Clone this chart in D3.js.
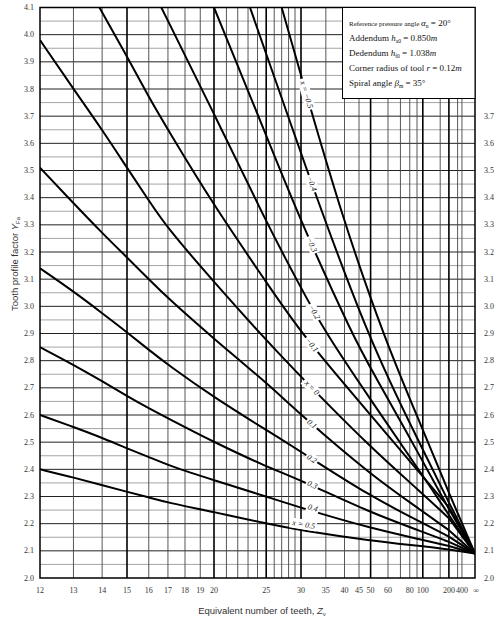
<!DOCTYPE html>
<html>
<head>
<meta charset="utf-8">
<script src="https://cdn.jsdelivr.net/npm/d3@7.9.0/dist/d3.min.js"></script>
<style>
  body { margin: 0; background: #fff; }
  svg text { font-family: "Liberation Serif", "Times New Roman", serif; }
  .sans { font-family: "Liberation Sans", Arial, sans-serif; }
</style>
</head>
<body>
<svg id="chart" width="503" height="623"></svg>
<script>
// profile shift coefficient x of each curve
const shifts = [-0.5, -0.4, -0.3, -0.2, -0.1, 0, 0.1, 0.2, 0.3, 0.4, 0.5];
const shiftLabels = ['x = \u22120.5', '\u22120.4', '\u22120.3', '\u22120.2', '\u22120.1',
  'x = 0', '0.1', '0.2', '0.3', '0.4', 'x = 0.5'];

// Z_v where each steep curve is read (it leaves the top of the chart at the first value)
const zM05 = [27, 30, 39, 58, 100, 200, Infinity];
const yM05 = [4.10, 3.85, 3.34, 2.875, 2.547, 2.314, 2.09];
const zM04 = [23.2, 25, 30, 49, 100, 200, Infinity];
const yM04 = [4.10, 3.93, 3.56, 2.875, 2.474, 2.278, 2.09];
const zM03 = [20, 25, 30, 43.5, 50, 100, 200, Infinity];
const yM03 = [4.10, 3.63, 3.31, 2.875, 2.773, 2.43, 2.254, 2.09];
const zM02 = [16.64, 20, 25, 29.7, 34.6, 50, 100, 200, Infinity];
const yM02 = [4.10, 3.71, 3.31, 3.08, 2.91, 2.656, 2.377, 2.232, 2.09];
const zM01 = [13.9, 15, 16, 17, 20, 25, 30, 50, 100, 200, Infinity];
const yM01 = [4.10, 3.92, 3.77, 3.65, 3.37, 3.09, 2.90, 2.60, 2.374, 2.26, 2.09];

// flatter curves all start at Z_v = 12
const zLow = [12, 13, 14, 15, 16, 17, 20, 25, 30, 50, 100, 200, Infinity];
const yP00 = [3.98, 3.80, 3.65, 3.51, 3.39, 3.285, 3.09, 2.875, 2.74, 2.48, 2.31, 2.22, 2.09];
const yP01 = [3.51, 3.38, 3.27, 3.18, 3.10, 3.03, 2.88, 2.72, 2.60, 2.38, 2.245, 2.176, 2.09];
const yP02 = [3.14, 3.055, 2.975, 2.905, 2.84, 2.785, 2.665, 2.545, 2.465, 2.30, 2.202, 2.152, 2.09];
const yP03 = [2.85, 2.785, 2.725, 2.67, 2.625, 2.588, 2.50, 2.41, 2.36, 2.24, 2.17, 2.133, 2.09];
const yP04 = [2.60, 2.556, 2.516, 2.477, 2.446, 2.415, 2.36, 2.30, 2.258, 2.183, 2.14, 2.118, 2.09];
const yP05 = [2.40, 2.37, 2.342, 2.317, 2.297, 2.277, 2.243, 2.20, 2.175, 2.137, 2.117, 2.105, 2.09];

const curveZ = [zM05, zM04, zM03, zM02, zM01, zLow, zLow, zLow, zLow, zLow, zLow];
const curveY = [yM05, yM04, yM03, yM02, yM01, yP00, yP01, yP02, yP03, yP04, yP05];

// Z_v where the curve label sits, and how far it is lifted off its curve
const labelZ = [31, 32, 32, 32.5, 32, 32, 32, 32, 32, 32, 30.3];
const labelLift = [0, 0, 0, 0, 0, 0, 0, 0, -1, -3, -6];

// axis ticks and grid
const zTicks = [12, 13, 14, 15, 16, 17, 18, 19, 20, 25, 30, 35, 40, 45, 50, 60, 80, 100, 200, 400, Infinity];
const zGrid = [13, 14, 15, 16, 17, 18, 19, 20, 21, 22, 23, 24, 25, 26, 27, 28, 29, 30,
  35, 40, 45, 50, 60, 70, 80, 90, 100, 150, 200, 300, 400];
const zMajor = [15, 20, 25, 30, 50, 100, 200];
const yTicks = d3.range(20, 42).map(d => d / 10);
const yRightTicks = d3.range(20, 38).map(d => d / 10);
const yMinor = d3.range(41, 83).map(d => d / 20);

const svg = d3.select('#chart');
const pLeft = 40, pRight = 475, pTop = 7.5, pBottom = 578;

// the paper uses a 1/Z scale so that Z = infinity is at the right edge
const x = d3.scaleLinear().domain([1 / 12, 0]).range([pLeft, pRight]);
const xz = z => x(1 / z);
const y = d3.scaleLinear().domain([2.0, 4.1]).range([pBottom, pTop]);

// grid
const grid = svg.append('g');
grid.selectAll('.hmin').data(yMinor).join('line')
  .attr('x1', pLeft).attr('x2', pRight)
  .attr('y1', d => y(d)).attr('y2', d => y(d))
  .attr('stroke', d => Math.round(d * 20) % 2 === 0 ? '#222' : '#9a9a9a')
  .attr('stroke-width', d => Math.round(d * 20) % 2 === 0 ? 1 : 0.9);
grid.selectAll('.v').data(zGrid).join('line')
  .attr('x1', d => xz(d)).attr('x2', d => xz(d))
  .attr('y1', pTop).attr('y2', pBottom)
  .attr('stroke', d => zMajor.includes(d) ? '#000' : '#444')
  .attr('stroke-width', d => zMajor.includes(d) ? 1.6 : 0.9);

// frame
svg.append('rect')
  .attr('x', pLeft).attr('y', pTop)
  .attr('width', pRight - pLeft).attr('height', pBottom - pTop)
  .attr('fill', 'none').attr('stroke', '#000').attr('stroke-width', 1.5);

// curves
svg.append('clipPath').attr('id', 'plot')
  .append('rect').attr('x', pLeft).attr('y', pTop)
  .attr('width', pRight - pLeft).attr('height', pBottom - pTop);

// a B-spline evens out small reading errors between the read points
const smooth = d3.line().curve(d3.curveBasis);
const curves = svg.append('g').attr('clip-path', 'url(#plot)');
const paths = [];

shifts.forEach((s, i) => {
  const pts = curveZ[i].map((z, j) => [xz(z), y(curveY[i][j])]);
  const last = pts.length - 1;
  // smooth part up to Z = 200, then a straight run into the common point at infinity
  const p = curves.append('path')
    .attr('d', smooth(pts.slice(0, last)))
    .attr('fill', 'none').attr('stroke', '#000').attr('stroke-width', 2);
  curves.append('path')
    .attr('d', d3.line()([pts[last - 1], pts[last]]))
    .attr('fill', 'none').attr('stroke', '#000').attr('stroke-width', 2);
  paths.push(p.node());
});

// find the point (and direction) of a path at a given x
function pointAtX(node, tx) {
  const len = node.getTotalLength();
  let lo = 0, hi = len;
  for (let k = 0; k < 40; k++) {
    const mid = (lo + hi) / 2;
    if (node.getPointAtLength(mid).x < tx) lo = mid; else hi = mid;
  }
  const p = node.getPointAtLength(lo);
  const a = node.getPointAtLength(Math.max(0, lo - 3));
  const b = node.getPointAtLength(Math.min(len, lo + 3));
  return { x: p.x, y: p.y, angle: Math.atan2(b.y - a.y, b.x - a.x) * 180 / Math.PI };
}

// curve labels, written along the curves on a white patch
const labels = svg.append('g');
shifts.forEach((s, i) => {
  const p = pointAtX(paths[i], xz(labelZ[i]));
  const g = labels.append('g')
    .attr('transform', `translate(${p.x},${p.y}) rotate(${p.angle}) translate(0,${labelLift[i]})`);
  const t = g.append('text')
    .attr('text-anchor', 'middle').attr('dy', '0.32em')
    .attr('font-size', 8).attr('font-style', 'italic').attr('fill', '#111')
    .text(shiftLabels[i]);
  const bb = t.node().getBBox();
  g.insert('rect', 'text')
    .attr('x', bb.x - 1.5).attr('y', bb.y - 0.5)
    .attr('width', bb.width + 3).attr('height', bb.height + 1)
    .attr('fill', '#fff');
});

// y tick labels, both sides
svg.append('g').selectAll('text').data(yTicks).join('text')
  .attr('x', 34).attr('y', d => y(d)).attr('dy', '0.32em')
  .attr('text-anchor', 'end').attr('font-size', 8).attr('fill', '#333')
  .text(d => d.toFixed(1));
svg.append('g').selectAll('text').data(yRightTicks).join('text')
  .attr('x', 484).attr('y', d => y(d)).attr('dy', '0.32em')
  .attr('font-size', 8).attr('fill', '#333')
  .text(d => d.toFixed(1));

// x tick labels
svg.append('g').selectAll('text').data(zTicks).join('text')
  .attr('x', d => xz(d) + (d === Infinity ? 1 : 0)).attr('y', 593)
  .attr('text-anchor', 'middle').attr('font-size', 8).attr('fill', '#333')
  .text(d => d === Infinity ? '\u221e' : d);

// axis titles
const xt = svg.append('text').attr('class', 'sans')
  .attr('x', 262).attr('y', 614).attr('text-anchor', 'middle')
  .attr('font-size', 9.5).attr('fill', '#333');
xt.append('tspan').text('Equivalent number of teeth, ');
xt.append('tspan').attr('font-style', 'italic').text('Z');
xt.append('tspan').attr('font-size', 6).attr('dy', 2).text('v');

const yt = svg.append('text').attr('class', 'sans')
  .attr('transform', 'translate(18,264) rotate(-90)').attr('text-anchor', 'middle')
  .attr('font-size', 9.5).attr('fill', '#333');
yt.append('tspan').text('Tooth profile factor  ');
yt.append('tspan').attr('font-style', 'italic').text('Y');
yt.append('tspan').attr('font-size', 6).attr('dy', 2).text('Fa');

// tool data box
const box = svg.append('g');
box.append('rect')
  .attr('x', 342.5).attr('y', pTop).attr('width', pRight - 342.5).attr('height', 91)
  .attr('fill', '#fff').attr('stroke', '#000').attr('stroke-width', 1);

const boxLines = [
  [['Reference pressure angle ', 7], ['\u03b1', 9, 'i'], ['n', 5.5, 's'], [' = 20\u00b0', 9]],
  [['Addendum ', 9], ['h', 9, 'i'], ['a0', 5.5, 's'], [' = 0.850', 9], ['m', 9, 'i']],
  [['Dedendum ', 9], ['h', 9, 'i'], ['f0', 5.5, 's'], [' = 1.038', 9], ['m', 9, 'i']],
  [['Corner radius of tool ', 9], ['r', 9, 'i'], [' = 0.12', 9], ['m', 9, 'i']],
  [['Spiral angle ', 9], ['\u03b2', 9, 'i'], ['m', 5.5, 's'], [' = 35\u00b0', 9]]
];
boxLines.forEach((parts, i) => {
  const t = box.append('text').attr('x', 349).attr('y', 26 + i * 15).attr('fill', '#111');
  let shifted = 0;
  parts.forEach(([str, size, kind]) => {
    const sp = t.append('tspan').attr('font-size', size).text(str);
    if (kind === 'i') sp.attr('font-style', 'italic');
    const want = kind === 's' ? 2 : 0;
    if (want !== shifted) { sp.attr('dy', want - shifted); shifted = want; }
  });
});
</script>
</body>
</html>
